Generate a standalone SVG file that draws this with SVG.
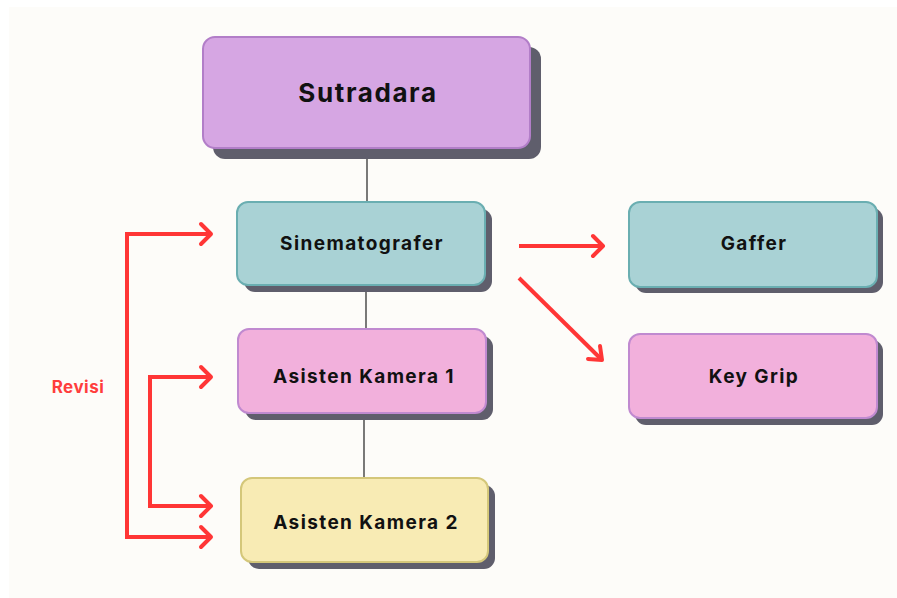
<svg xmlns="http://www.w3.org/2000/svg" width="897" height="598" viewBox="0 0 897 598">
<defs>
<style>
.shadow{fill:#5f5e6c}
.lbl{font-family:Inter,"Liberation Sans",sans-serif;font-weight:700;fill:#111;text-anchor:middle;dominant-baseline:central;font-size:19px;letter-spacing:1.4px}
.purple{fill:#d6a6e3;stroke:#b27ec8;stroke-width:2}
.teal{fill:#a9d2d5;stroke:#6aaeb1;stroke-width:2}
.pink{fill:#f2b0dc;stroke:#c08ad0;stroke-width:2}
.yellow{fill:#f8ebb4;stroke:#d4c77a;stroke-width:2}
.tree{stroke:#222;stroke-width:1.2;fill:none}
.red{stroke:#ff3636;stroke-width:4;fill:none;stroke-linejoin:miter}
.head{stroke:#ff3636;stroke-width:4;fill:none;stroke-linecap:round;stroke-linejoin:round}
</style>
</defs>
<rect x="0" y="0" width="897" height="598" fill="#ffffff"/>
<rect x="9" y="7" width="888" height="591" fill="#fdfcf9"/>

<g id="connectors">
<line class="tree" x1="367" y1="148" x2="367" y2="202"/>
<line class="tree" x1="366" y1="285" x2="366" y2="329"/>
<line class="tree" x1="364" y1="413" x2="364" y2="478"/>
<polyline class="red" points="212,537 127,537 127,234 210,234"/>
<polyline class="head" points="201,224 211,234 201,244"/>
<polyline class="head" points="201,527 211,537 201,547"/>
<polyline class="red" points="210,377 150,377 150,506 210,506"/>
<polyline class="head" points="201,367 211,377 201,387"/>
<polyline class="head" points="201,496 211,506 201,516"/>
<line class="red" x1="519" y1="246" x2="603" y2="246"/>
<polyline class="head" points="593,236 603,246 593,256"/>
<line class="red" x1="519" y1="278" x2="601" y2="359"/>
<polyline class="head" points="600,346 602,360 588,359"/>
</g>

<text x="78" y="387" font-family="Inter,'Liberation Sans',sans-serif" font-weight="700" font-size="17" letter-spacing="0.5" fill="#ff3d3d" text-anchor="middle" dominant-baseline="central">Revisi</text>

<g id="sutradara">
<rect class="shadow" x="213" y="47" width="328" height="112" rx="12"/>
<rect class="purple" x="203" y="37" width="327" height="111" rx="12"/>
<text class="lbl" x="368" y="92" style="font-size:26px;letter-spacing:1.6px">Sutradara</text>
</g>
<g id="sinematografer">
<rect class="shadow" x="244" y="209" width="248" height="83" rx="11"/>
<rect class="teal" x="237" y="202" width="248" height="83" rx="11"/>
<text class="lbl" x="362" y="243">Sinematografer</text>
</g>
<g id="gaffer">
<rect class="shadow" x="635" y="208" width="248" height="85" rx="11"/>
<rect class="teal" x="629" y="202" width="248" height="85" rx="11"/>
<text class="lbl" x="754" y="243">Gaffer</text>
</g>
<g id="keygrip">
<rect class="shadow" x="635" y="340" width="248" height="85" rx="11"/>
<rect class="pink" x="629" y="334" width="248" height="84" rx="11"/>
<text class="lbl" x="754" y="376">Key Grip</text>
</g>
<g id="asisten1">
<rect class="shadow" x="245" y="336" width="248" height="84" rx="11"/>
<rect class="pink" x="238" y="329" width="248" height="84" rx="11"/>
<text class="lbl" x="364" y="376">Asisten Kamera 1</text>
</g>
<g id="asisten2">
<rect class="shadow" x="248" y="485" width="247" height="84" rx="11"/>
<rect class="yellow" x="241" y="478" width="247" height="84" rx="11"/>
<text class="lbl" x="366" y="522">Asisten Kamera 2</text>
</g>
</svg>
